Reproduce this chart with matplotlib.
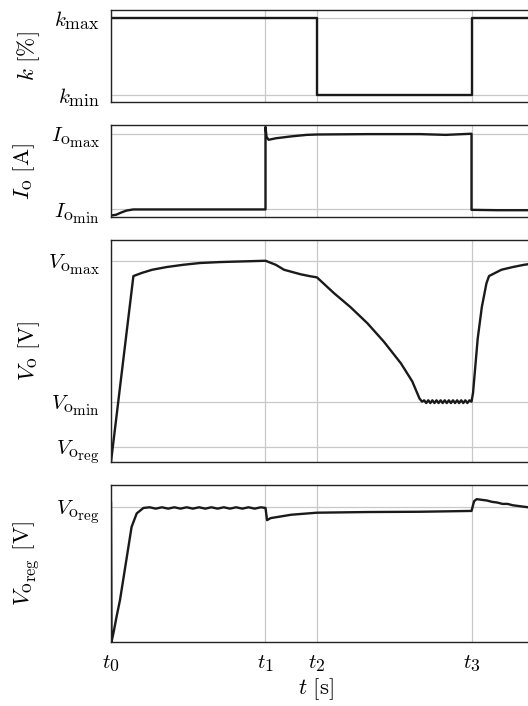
import numpy as np
import matplotlib
matplotlib.use('Agg')
import matplotlib.pyplot as plt
import matplotlib._mathtext as mathtext_core

plt.rcParams['mathtext.fontset'] = 'cm'
plt.rcParams['font.family'] = 'serif'
plt.rcParams['font.serif'] = ['DejaVu Serif']
# LaTeX-looking subscripts in the reference are larger than mathtext's default
mathtext_core.SHRINK_FACTOR = 0.85

# ---- time markers (arbitrary units) ----
t_ticks = [0.0, 3.0, 4.0, 7.0]
t_labels = [r'$t_0$', r'$t_1$', r'$t_2$', r'$t_3$']
t_max = 8.15

# ---- k [%] ----
k_t = [0.0, 4.0, 4.0, 7.0, 7.0, 8.2]
k_v = [1.0, 1.0, 0.0, 0.0, 1.0, 1.0]

# ---- I_o [A] ----
io_t = [0.0, 0.1, 0.2, 0.3, 0.43, 0.6, 2.0, 3.0, 3.0, 3.02, 3.06, 3.2, 3.5,
        3.8, 4.0, 5.0, 6.0, 6.5, 7.0, 7.0, 7.5, 8.2]
io_v = [-0.08, -0.07, -0.04, -0.015, 0.0, 0.0, 0.0, 0.0, 1.09, 0.96, 0.92,
        0.94, 0.965, 0.985, 0.99, 0.995, 0.995, 0.985, 1.0, -0.005, -0.01, -0.01]

# ---- V_o [V] ----
vo_t = [0.0, 0.435, 0.6, 0.8, 1.08, 1.4, 1.73, 2.1, 2.38, 2.7, 3.0, 3.2,
        3.36, 3.52, 3.68, 3.85, 4.0, 4.33, 4.65, 4.98, 5.3, 5.63, 5.85, 5.99,
        6.04, 6.08, 6.12, 6.16, 6.2, 6.24, 6.28, 6.32, 6.36, 6.4, 6.44, 6.48,
        6.52, 6.56, 6.6, 6.64, 6.68, 6.72, 6.76, 6.8, 6.84, 6.88, 6.92, 6.96,
        7.0, 7.03, 7.12, 7.2, 7.29, 7.34, 7.58, 7.8, 8.02, 8.2]
vo_v = [-0.34, 3.79, 3.86, 3.93, 3.99, 4.04, 4.08, 4.10, 4.11, 4.12, 4.13,
        4.04, 3.93, 3.88, 3.83, 3.79, 3.76, 3.41, 3.10, 2.74, 2.33, 1.85, 1.45,
        1.07, 1.00, 1.03, 0.97, 1.03, 0.97, 1.03, 0.97, 1.03, 0.97, 1.03, 0.97,
        1.03, 0.97, 1.03, 0.97, 1.03, 0.97, 1.03, 0.97, 1.03, 0.97, 1.03, 0.97,
        1.03, 1.00, 1.20, 2.40, 3.10, 3.63, 3.79, 3.93, 3.99, 4.04, 4.07]

# ---- V_o_reg [V] ----
vr_t = [0.0, 0.01, 0.05, 0.11, 0.175, 0.3, 0.4, 0.5, 0.63, 0.75, 0.87, 0.99,
        1.11, 1.23, 1.35, 1.47, 1.59, 1.71, 1.83, 1.95, 2.07, 2.19, 2.31, 2.43,
        2.55, 2.67, 2.79, 2.91, 3.0, 3.03, 3.1, 3.5, 4.0, 5.0, 6.0, 7.0, 7.05,
        7.1, 7.2, 7.3, 7.4, 7.5, 7.6, 7.7, 7.8, 7.9, 8.0, 8.2]
vr_v = [1.03, 0.0, 0.07, 0.19, 0.31, 0.61, 0.85, 0.95, 0.99, 0.995, 0.985,
        0.995, 0.985, 0.995, 0.985, 0.995, 0.985, 0.995, 0.985, 0.995, 0.985,
        0.995, 0.985, 0.995, 0.985, 0.995, 0.985, 0.995, 0.99, 0.90, 0.915,
        0.94, 0.955, 0.96, 0.962, 0.968, 1.04, 1.055, 1.05, 1.045, 1.035,
        1.03, 1.02, 1.02, 1.01, 1.005, 1.0, 0.99]

line_kw = dict(color='#1a1a1a', linewidth=1.7)
tick_fs = 15
label_fs = 16.5

fig = plt.figure(figsize=(5.28, 7.06), dpi=100)
left, width = 0.2102, 0.7950
ax1 = fig.add_axes([left, 0.8555, width, 0.1303])
ax2 = fig.add_axes([left, 0.6926, width, 0.1303])
ax3 = fig.add_axes([left, 0.3456, width, 0.3144])
ax4 = fig.add_axes([left, 0.0907, width, 0.2224])

ax1.plot(k_t, k_v, **line_kw)
ax1.set_ylim(-0.09, 1.10)
ax1.set_yticks([0.0, 1.0], [r'$k_{\min}$', r'$k_{\max}$'])
ax1.set_ylabel(r'$k\ [\%]$')

ax2.plot(io_t, io_v, **line_kw)
ax2.set_ylim(-0.10, 1.115)
ax2.set_yticks([0.0, 1.0], [r'$I_{\mathrm{o}_{\min}}$', r'$I_{\mathrm{o}_{\max}}$'])
ax2.set_ylabel(r'$I_{\mathrm{o}}\ [\mathrm{A}]$')

ax3.plot(vo_t, vo_v, **line_kw)
ax3.set_ylim(-0.34, 4.59)
ax3.set_yticks([0.0, 1.0, 4.13], [r'$V_{\mathrm{o}_{\mathrm{reg}}}$',
                                  r'$V_{\mathrm{o}_{\min}}$',
                                  r'$V_{\mathrm{o}_{\max}}$'])
ax3.set_ylabel(r'$V_{\mathrm{o}}\ [\mathrm{V}]$')

ax4.plot(vr_t, vr_v, **line_kw)
ax4.set_ylim(0.0, 1.16)
ax4.set_yticks([1.0], [r'$V_{\mathrm{o}_{\mathrm{reg}}}$'])
ax4.set_ylabel(r'$V_{\mathrm{o}_{\mathrm{reg}}}\ [\mathrm{V}]$')
ax4.set_xlabel(r'$t\ [\mathrm{s}]$', fontsize=label_fs)

label_x = [-0.165, -0.177, -0.165, -0.165]
for ax, lx in zip([ax1, ax2, ax3, ax4], label_x):
    ax.set_xlim(0, t_max)
    ax.set_xticks(t_ticks)
    ax.grid(True, color='#c8c8c8', linewidth=0.9)
    ax.set_axisbelow(True)
    ax.tick_params(length=0, labelsize=tick_fs, pad=8)
    ax.yaxis.label.set_size(label_fs)
    ax.yaxis.set_label_coords(lx, 0.5)
    for sp in ax.spines.values():
        sp.set_linewidth(1.0)
        sp.set_color('#222222')
    if ax is not ax4:
        ax.set_xticklabels([])
ax4.set_xticklabels(t_labels)
ax4.xaxis.set_label_coords(0.489, -0.221)

fig.savefig('out.png', dpi=100)
